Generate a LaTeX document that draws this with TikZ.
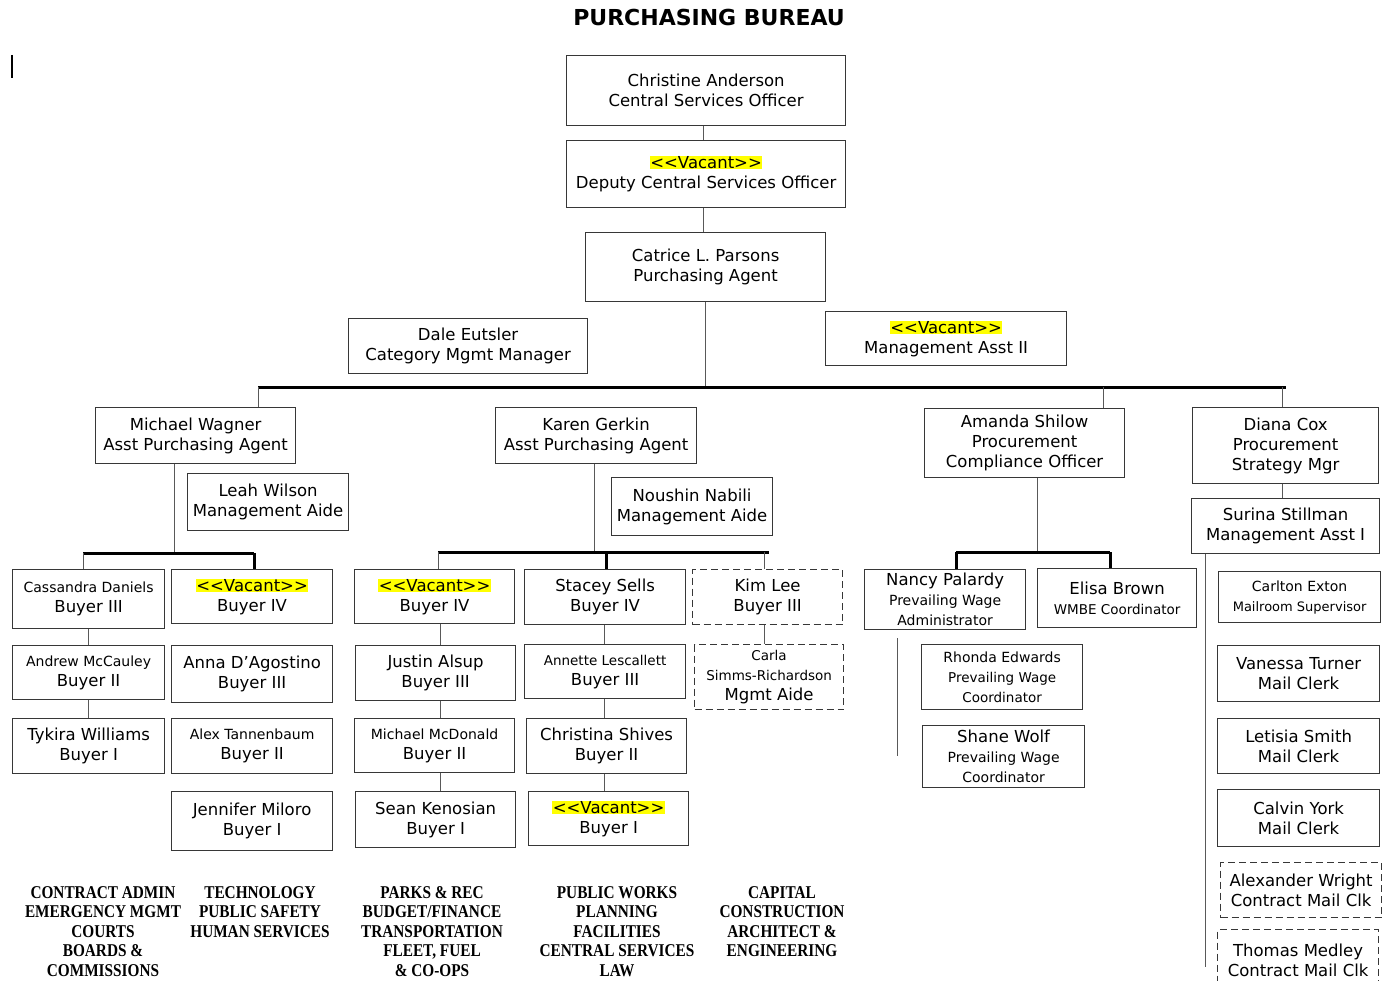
\documentclass[tikz,border=0pt]{standalone}
\usepackage{fontspec}
\setmainfont{DejaVu Sans}
\newfontfamily\deptfont{Liberation Serif}[FakeStretch=0.85]
\usepackage{tikz}
\usetikzlibrary{calc}
\definecolor{vacyellow}{RGB}{255,255,0}
\definecolor{boxgray}{RGB}{55,55,55}
\newcommand{\vac}{{\setlength{\fboxsep}{0.5pt}\colorbox{vacyellow}{<\kern0pt<Vacant>\kern0pt>}}}
\newcommand{\sm}{\fontsize{14}{19}\selectfont}
\newcommand{\xs}{\fontsize{13.5}{18}\selectfont}
\tikzset{sz/.style 2 args={minimum width=#1pt, minimum height=#2pt}}

\begin{document}
\begin{tikzpicture}[
  x=1pt, y=-1pt,
  box/.style={draw=boxgray, line width=1.2pt, anchor=north west, inner sep=0pt, align=center, font=\fontsize{16.5}{20}\selectfont},
  dbox/.style={box, dash pattern=on 7pt off 4pt},
  link/.style={draw=black!65, line width=0.9pt},
  bar/.style={draw=black, line width=3pt},
  dept/.style={anchor=north, inner sep=0pt, align=center, font=\deptfont\bfseries\fontsize{18}{19.5}\selectfont}
]
  \useasboundingbox (0,0) rectangle (1389,981);
  \fill[white] (0,0) rectangle (1389,981);

  \node[inner sep=0pt, font=\bfseries\fontsize{22}{26}\selectfont] (title) at (709,17) {PURCHASING BUREAU};
  \coordinate (curT) at (12,55);
  \coordinate (curB) at (12,78);
  \draw[line width=2pt] (curT) -- (curB);

  \node[box, sz={279}{70}] (ca) at (566,55) {Christine Anderson\\Central Services Officer};
  \node[box, sz={279}{67}] (dep) at (566,140) {\vac\\Deputy Central Services Officer};
  \node[box, sz={240}{69}] (parsons) at (585,232) {Catrice L. Parsons\\Purchasing Agent};
  \node[box, sz={239}{55}] (dale) at (348,318) {Dale Eutsler\\Category Mgmt Manager};
  \node[box, sz={241}{54}] (vacma) at (825,311) {\vac\\Management Asst II};

  \node[box, sz={200}{56}] (wagner) at (95,407) {Michael Wagner\\Asst Purchasing Agent};
  \node[box, sz={161}{57}] (leah) at (187,473) {Leah Wilson\\Management Aide};
  \node[box, sz={152}{59}] (cass) at (12,569) {{\sm Cassandra Daniels}\\Buyer III};
  \node[box, sz={152}{54}] (andrew) at (12,645) {{\sm Andrew McCauley}\\Buyer II};
  \node[box, sz={152}{55}] (tykira) at (12,718) {Tykira Williams\\Buyer I};
  \node[box, sz={161}{54}] (vacb4a) at (171,569) {\vac\\Buyer IV};
  \node[box, sz={161}{57}] (anna) at (171,645) {Anna D’Agostino\\Buyer III};
  \node[box, sz={161}{55}] (alex) at (171,718) {{\sm Alex Tannenbaum}\\Buyer II};
  \node[box, sz={161}{59}] (jennifer) at (171,791) {Jennifer Miloro\\Buyer I};

  \node[box, sz={201}{56}] (karen) at (495,407) {Karen Gerkin\\Asst Purchasing Agent};
  \node[box, sz={161}{58}] (noushin) at (611,477) {Noushin Nabili\\Management Aide};
  \node[box, sz={160}{54}] (vacb4b) at (354,569) {\vac\\Buyer IV};
  \node[box, sz={160}{55}] (justin) at (355,645) {Justin Alsup\\Buyer III};
  \node[box, sz={160}{54}] (mcdonald) at (354,718) {{\sm Michael McDonald}\\Buyer II};
  \node[box, sz={160}{56}] (sean) at (355,791) {Sean Kenosian\\Buyer I};
  \node[box, sz={161}{55}] (stacey) at (524,569) {Stacey Sells\\Buyer IV};
  \node[box, sz={161}{54}] (annette) at (524,644) {{\xs Annette Lescallett}\\Buyer III};
  \node[box, sz={160}{55}] (christina) at (526,718) {Christina Shives\\Buyer II};
  \node[box, sz={160}{54}] (vacb1) at (528,791) {\vac\\Buyer I};
  \node[dbox, sz={150}{55}] (kimlee) at (692,569) {Kim Lee\\Buyer III};
  \node[dbox, sz={149}{65}] (carla) at (694,644) {{\xs Carla}\\{\xs Simms-Richardson}\\Mgmt Aide};

  \node[box, sz={200}{69}] (amanda) at (924,408) {Amanda Shilow\\Procurement\\Compliance Officer};
  \node[box, sz={161}{60}] (nancy) at (864,569) {Nancy Palardy\\{\sm Prevailing Wage}\\{\sm Administrator}};
  \node[box, sz={159}{59}] (elisa) at (1037,568) {Elisa Brown\\{\xs WMBE Coordinator}};
  \node[box, sz={161}{65}] (rhonda) at (921,644) {{\sm Rhonda Edwards}\\{\xs Prevailing Wage}\\{\xs Coordinator}};
  \node[box, sz={162}{62}] (shane) at (922,725) {Shane Wolf\\{\sm Prevailing Wage}\\{\sm Coordinator}};

  \node[box, sz={186}{76}] (diana) at (1192,407) {Diana Cox\\Procurement\\Strategy Mgr};
  \node[box, sz={188}{55}] (surina) at (1191,498) {Surina Stillman\\Management Asst I};
  \node[box, sz={162}{51}] (carlton) at (1218,571) {{\sm Carlton Exton}\\{\fontsize{13}{17}\selectfont Mailroom Supervisor}};
  \node[box, sz={162}{56}] (vanessa) at (1217,645) {Vanessa Turner\\Mail Clerk};
  \node[box, sz={162}{55}] (letisia) at (1217,718) {Letisia Smith\\Mail Clerk};
  \node[box, sz={162}{57}] (calvin) at (1217,789) {Calvin York\\Mail Clerk};
  \node[dbox, sz={161}{55}] (wright) at (1220,862) {Alexander Wright\\Contract Mail Clk};
  \node[dbox, sz={161}{61}] (medley) at (1217,929) {Thomas Medley\\Contract Mail Clk};

  \coordinate (cx) at (703,0);
  \draw[link] (ca.south -| cx) -- (dep.north -| cx);
  \draw[link] (dep.south -| cx) -- (parsons.north -| cx);

  \coordinate (mainL) at (258,387);
  \coordinate (mainR) at (1286,387);
  \coordinate (amdrop) at (1103,387);
  \coordinate (didrop) at (1282,387);
  \draw[link] (parsons.south) -- (parsons.south |- mainL);
  \draw[bar] (mainL) -- (mainR);
  \draw[link] (mainL) -- (wagner.north -| mainL);
  \draw[link] (amdrop) -- (amanda.north -| amdrop);
  \draw[link] (didrop) -- (diana.north -| didrop);

  \coordinate (wL) at (83,553);
  \coordinate (wR) at (254,553);
  \coordinate (wdown) at (174,553);
  \draw[link] (wagner.south -| wdown) -- (wdown);
  \draw[bar] (wL) -- (wR);
  \draw[link] (wL) -- (cass.north -| wL);
  \draw[bar] (wR) -- (vacb4a.north -| wR);
  \draw[link] (cass.south) -- (andrew.north);
  \draw[link] (andrew.south) -- (tykira.north);

  \coordinate (kL) at (438,552);
  \coordinate (kM) at (606,552);
  \coordinate (kR) at (769,552);
  \coordinate (kK) at (764,552);
  \coordinate (kdown) at (594,552);
  \draw[link] (karen.south -| kdown) -- (kdown);
  \draw[bar] (kL) -- (kR);
  \draw[link] (kL) -- (vacb4b.north -| kL);
  \draw[bar] (kM) -- (stacey.north -| kM);
  \draw[link] (kK) -- (kimlee.north -| kK);
  \coordinate (c3) at (440,0);
  \draw[link] (vacb4b.south -| c3) -- (justin.north -| c3);
  \draw[link] (justin.south -| c3) -- (mcdonald.north -| c3);
  \draw[link] (mcdonald.south -| c3) -- (sean.north -| c3);
  \coordinate (c4) at (604,0);
  \draw[link] (stacey.south -| c4) -- (annette.north -| c4);
  \draw[link] (annette.south -| c4) -- (christina.north -| c4);
  \draw[link] (christina.south -| c4) -- (vacb1.north -| c4);
  \draw[link] (kimlee.south -| kK) -- (carla.north -| kK);

  \coordinate (aL) at (956,552);
  \coordinate (aR) at (1110,552);
  \coordinate (adown) at (1037,552);
  \draw[link] (amanda.south -| adown) -- (adown);
  \draw[bar] (aL) -- (aR);
  \draw[bar] (aL) -- (nancy.north -| aL);
  \draw[bar] (aR) -- (elisa.north -| aR);
  \coordinate (pwtop) at (897,638);
  \coordinate (pwbot) at (897,756);
  \draw[link] (pwtop) -- (pwbot);

  \draw[link] (diana.south -| didrop) -- (surina.north -| didrop);
  \coordinate (sdown) at (1205,967);
  \draw[link] (surina.south -| sdown) -- (sdown);

  \node[dept] (dept1) at (103,886) {CONTRACT ADMIN\\EMERGENCY MGMT\\COURTS\\BOARDS \&\\COMMISSIONS};
  \node[dept] (dept2) at (260,886) {TECHNOLOGY\\PUBLIC SAFETY\\HUMAN SERVICES};
  \node[dept] (dept3) at (432,886) {PARKS \& REC\\BUDGET/FINANCE\\TRANSPORTATION\\FLEET, FUEL\\\& CO-OPS};
  \node[dept] (dept4) at (617,886) {PUBLIC WORKS\\PLANNING\\FACILITIES\\CENTRAL SERVICES\\LAW};
  \node[dept] (dept5) at (782,886) {CAPITAL\\CONSTRUCTION\\ARCHITECT \&\\ENGINEERING};
\end{tikzpicture}
\end{document}
